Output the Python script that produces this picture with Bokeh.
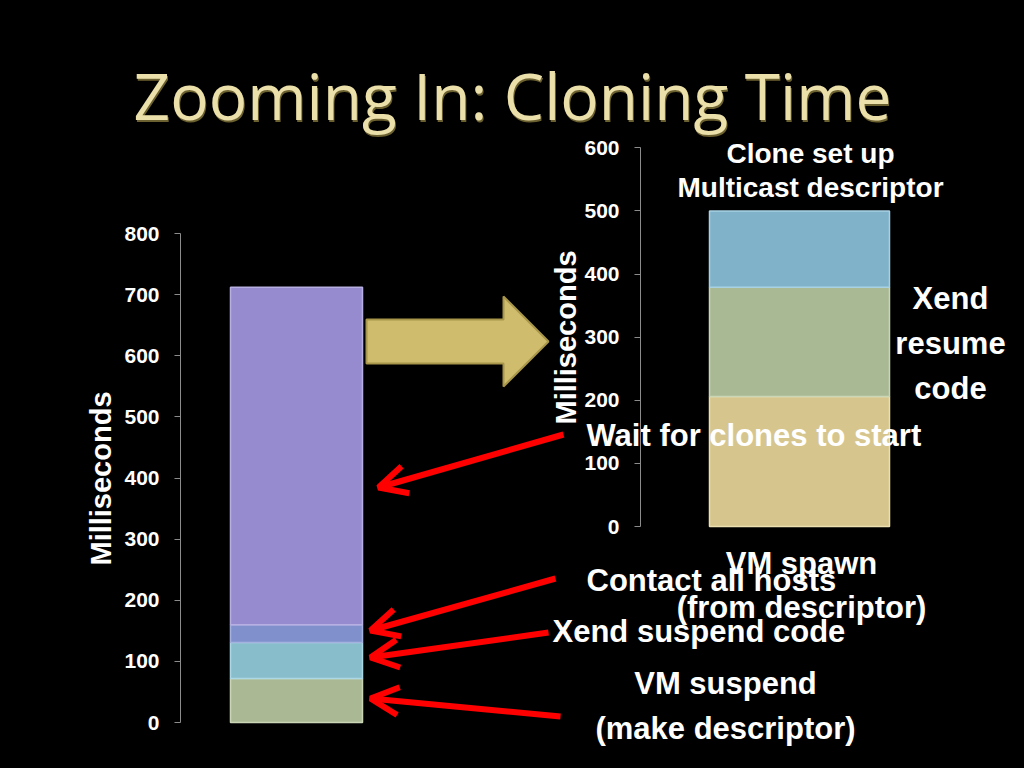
import math
from bokeh.plotting import figure
from bokeh.models import (Range1d, LinearAxis, SingleIntervalTicker, ColumnDataSource,
                          Arrow, OpenHead, GlobalInlineStyleSheet)
from bokeh.core.properties import value
from bokeh.embed import file_html
from bokeh.resources import INLINE

# ---------------- data ----------------
title_text = "Zooming In: Cloning Time"
axis_title = "Milliseconds"

left_keys = ["vm_suspend", "xend_suspend", "contact_hosts", "wait_clones"]
left_values = [72, 59, 29, 552]
left_colors = ["#aab994", "#88bdcc", "#8090cc", "#978bcf"]
left_edges = ["#cad5b6", "#abd8e4", "#a5b2e0", "#b7aee2"]

right_keys = ["vm_spawn", "xend_resume", "clone_setup"]
right_values = [206, 173, 121]
right_colors = ["#d6c68e", "#a9b994", "#80b2ca"]
right_edges = ["#ece0b0", "#cad6b6", "#a8d2e4"]

left_ticks_max = 800
right_ticks_max = 600
tick_step = 100

# ---------------- layout constants (reference pixel space) ----------------
W, H = 1008, 752
FONT = "Liberation Sans"

# left chart: value 0 at y=722, 800 at y=233
l_px = (722 - 233) / 800.0
l_range = Range1d(start=-(H - 722) / l_px, end=722 / l_px)
# right chart: value 0 at y=526, 600 at y=147.3
r_px = (526 - 147.3) / 600.0
r_range = Range1d(start=-(H - 526) / r_px, end=526 / r_px)

p = figure(width=W, height=H, x_range=Range1d(0, W), y_range=Range1d(H, 0),
           x_axis_location=None, y_axis_location=None, toolbar_location=None,
           output_backend="svg", min_border=0)
p.extra_y_ranges = {"L": l_range, "R": r_range}
p.background_fill_color = "black"
p.border_fill_color = "black"
p.outline_line_color = None
p.grid.grid_line_color = None
p.stylesheets = [GlobalInlineStyleSheet(css="html, body { background-color: #000000; }")]

# ---------------- bars ----------------
lsrc = ColumnDataSource(dict(x=[296], **{k: [v] for k, v in zip(left_keys, left_values)}))
p.vbar_stack(left_keys, x="x", width=132, source=lsrc, fill_color=left_colors,
             line_color=left_edges, line_width=1.5, y_range_name="L")

rsrc = ColumnDataSource(dict(x=[799], **{k: [v] for k, v in zip(right_keys, right_values)}))
p.vbar_stack(right_keys, x="x", width=180, source=rsrc, fill_color=right_colors,
             line_color=right_edges, line_width=1.5, y_range_name="R")

# ---------------- axes ----------------
def make_axis(rng_name, loc, top):
    ax = LinearAxis(y_range_name=rng_name, fixed_location=loc, bounds=(0, top),
                    ticker=SingleIntervalTicker(interval=tick_step, num_minor_ticks=0))
    ax.axis_line_color = "#8c8c8c"
    ax.axis_line_width = 1
    ax.major_tick_line_color = "#8c8c8c"
    ax.major_tick_out = 6
    ax.major_tick_in = 0
    ax.minor_tick_out = 0
    ax.minor_tick_in = 0
    ax.major_label_text_color = "white"
    ax.major_label_text_font = FONT
    ax.major_label_text_font_style = "bold"
    ax.major_label_text_font_size = "21px"
    ax.major_label_standoff = 15
    return ax

p.add_layout(make_axis("L", 180, left_ticks_max), "left")
p.add_layout(make_axis("R", 640, right_ticks_max), "left")

# axis titles
p.text(x=[100, 565], y=[478, 337], text=[axis_title, axis_title], angle=math.pi / 2,
       text_align="center", text_baseline="middle", text_color="white",
       text_font=value(FONT), text_font_style="bold", text_font_size="29px")

# ---------------- title ----------------
p.text(x=[513], y=[97], text=[title_text], text_align="center", text_baseline="middle",
       text_color="#6b6030", text_font=value("Open Sans"), text_font_size="64px")
p.text(x=[512], y=[95], text=[title_text], text_align="center", text_baseline="middle",
       text_color="#ebe0aa", text_font=value("Open Sans"), text_font_size="64px")

# ---------------- zoom arrow ----------------
gx0, gx1, gx2 = 366, 503, 548
gy, gs, gh = 341, 22, 45
p.patch(x=[gx0, gx1, gx1, gx2, gx1, gx1, gx0],
        y=[gy - gs, gy - gs, gy - gh, gy, gy + gh, gy + gs, gy + gs],
        fill_color="#cfbc6c", line_color="#a8964a", line_width=2)

# ---------------- red arrows ----------------
arrows = ColumnDataSource(dict(
    xs=[563, 555, 548, 560], ys=[434, 578, 632, 716],
    xe=[378, 370, 370, 370], ye=[487, 630, 657, 698]))
p.add_layout(Arrow(end=OpenHead(line_color="#ff0000", line_width=6, size=28),
                   x_start="xs", y_start="ys", x_end="xe", y_end="ye", source=arrows,
                   line_color="#ff0000", line_width=6))

# ---------------- labels ----------------
p.text(x=[810, 810], y=[153, 187], text=["Clone set up", "Multicast descriptor"],
       text_align="center", text_baseline="middle", text_color="white",
       text_font=value(FONT), text_font_style="bold", text_font_size="28px")

lab_c = dict(x=[950, 950, 950, 801, 801, 725, 725],
             y=[298, 343, 388, 563, 607, 683, 728],
             t=["Xend", "resume", "code",
                "VM spawn", "(from descriptor)", "VM suspend", "(make descriptor)"])
p.text(x=lab_c["x"], y=lab_c["y"], text=lab_c["t"], text_align="center", text_baseline="middle",
       text_color="white", text_font=value(FONT), text_font_style="bold", text_font_size="31px")

lab_l = dict(x=[586, 586, 552], y=[435, 580, 631],
             t=["Wait for clones to start", "Contact  all hosts", "Xend suspend code"])
p.text(x=lab_l["x"], y=lab_l["y"], text=lab_l["t"], text_align="left", text_baseline="middle",
       text_color="white", text_font=value(FONT), text_font_style="bold", text_font_size="31px")

open("out.html", "w").write(file_html(p, INLINE))
